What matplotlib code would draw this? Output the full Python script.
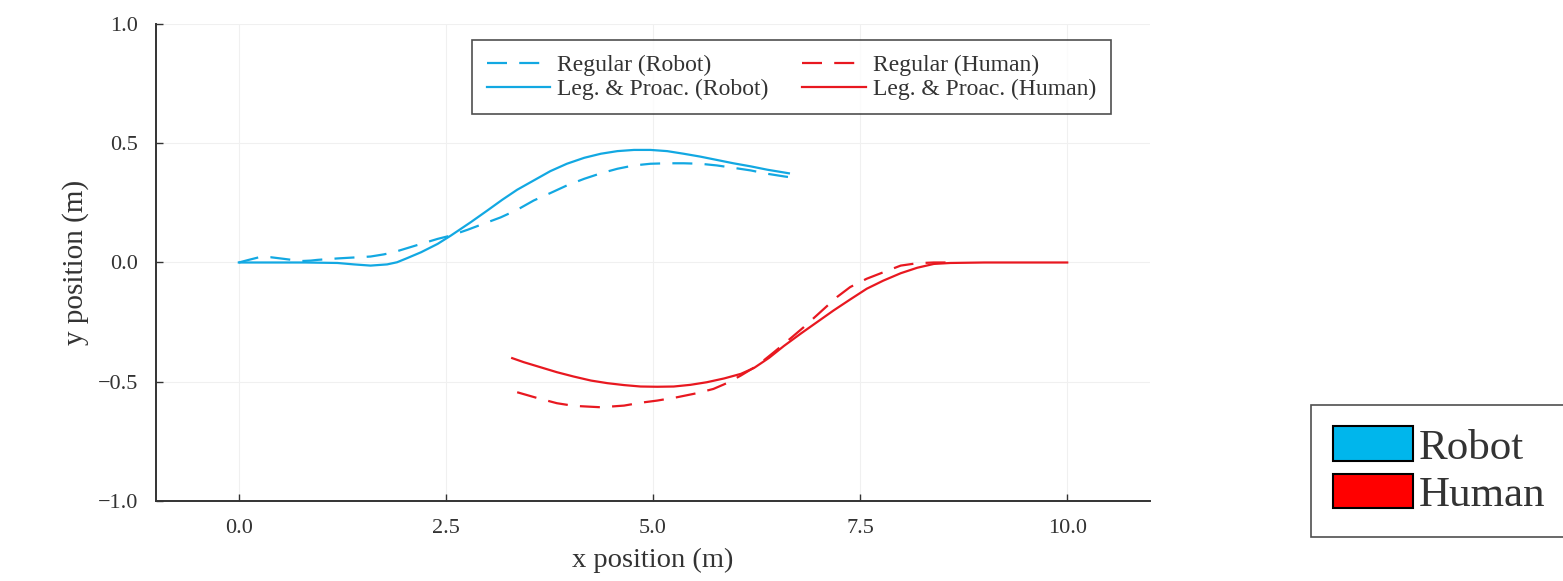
import matplotlib
matplotlib.use("Agg")
import matplotlib.pyplot as plt
from matplotlib.patches import Patch

# ---- data ----
robot_reg_x = [0.0, 0.12, 0.245, 0.386, 0.55, 0.75, 0.869, 0.95, 1.19, 1.39, 1.59, 1.75, 1.87, 2.03,
               2.2, 2.4, 2.56, 2.76, 2.92, 3.16, 3.36, 3.56, 3.76, 3.96, 4.17, 4.37, 4.57, 4.77,
               4.97, 5.17, 5.37, 5.57, 5.77, 5.97, 6.18, 6.38, 6.58, 6.72]
robot_reg_y = [0.0, 0.011, 0.022, 0.022, 0.015, 0.006, 0.008, 0.011, 0.017, 0.021, 0.025, 0.034, 0.043,
               0.06, 0.078, 0.099, 0.113, 0.137, 0.158, 0.189, 0.221, 0.26, 0.291, 0.323, 0.351, 0.374,
               0.393, 0.407, 0.414, 0.416, 0.416, 0.414, 0.407, 0.397, 0.386, 0.372, 0.361, 0.354]

robot_lp_x = [0.0, 0.386, 0.8, 1.19, 1.39, 1.59, 1.79, 1.91, 2.03, 2.2, 2.4, 2.56, 2.8, 3.0, 3.18,
              3.36, 3.56, 3.76, 3.96, 4.17, 4.37, 4.57, 4.77, 4.97, 5.17, 5.37, 5.57, 5.77, 5.97,
              6.18, 6.38, 6.64]
robot_lp_y = [0.0, 0.0, 0.0, -0.002, -0.008, -0.013, -0.008, 0.001, 0.018, 0.043, 0.078, 0.113, 0.169,
              0.218, 0.263, 0.305, 0.344, 0.383, 0.414, 0.439, 0.456, 0.467, 0.472, 0.472, 0.467,
              0.456, 0.444, 0.430, 0.416, 0.403, 0.389, 0.374]

human_reg_x = [3.36, 3.6, 3.84, 4.04, 4.37, 4.65, 4.85, 5.05, 5.29, 5.53, 5.73, 5.89, 6.06, 6.26,
               6.46, 6.62, 6.82, 7.02, 7.22, 7.38, 7.58, 7.78, 7.99, 8.19, 8.39, 8.65]
human_reg_y = [-0.544, -0.568, -0.590, -0.601, -0.607, -0.600, -0.588, -0.579, -0.565, -0.548,
               -0.530, -0.506, -0.474, -0.432, -0.376, -0.330, -0.271, -0.208, -0.145, -0.103,
               -0.068, -0.041, -0.013, -0.003, 0.0, 0.0]

human_lp_x = [3.30, 3.44, 3.64, 3.84, 4.04, 4.25, 4.45, 4.65, 4.85, 5.05, 5.25, 5.45, 5.65, 5.86,
              6.06, 6.22, 6.40, 6.58, 6.78, 6.98, 7.18, 7.38, 7.58, 7.78, 7.99, 8.19, 8.39, 8.59,
              9.0, 9.5, 10.0]
human_lp_y = [-0.401, -0.418, -0.439, -0.460, -0.478, -0.495, -0.506, -0.514, -0.520, -0.521, -0.520,
              -0.513, -0.502, -0.486, -0.467, -0.442, -0.400, -0.350, -0.299, -0.250, -0.201, -0.155,
              -0.110, -0.076, -0.045, -0.022, -0.006, -0.002, 0.0, 0.0, 0.0]

x_ticks = [0.0, 2.5, 5.0, 7.5, 10.0]
x_tick_labels = ["0.0", "2.5", "5.0", "7.5", "10.0"]
y_ticks = [-1.0, -0.5, 0.0, 0.5, 1.0]
y_tick_labels = ["\u22121.0", "\u22120.5", "0.0", "0.5", "1.0"]

line_labels = ["Regular (Robot)", "Leg. & Proac. (Robot)", "Regular (Human)", "Leg. & Proac. (Human)"]
agent_labels = ["Robot", "Human"]

BLUE_LINE = "#12a8e2"
RED_LINE = "#e81820"
BLUE_FILL = "#00b6ec"
RED_FILL = "#ff0000"
TEXT = "#333333"

plt.rcParams['font.family'] = ['Liberation Serif', 'DejaVu Serif']

fig = plt.figure(figsize=(15.63, 5.81), dpi=100)
ax = fig.add_axes([0.0998, 0.1377, 0.6360, 0.8210])

lw = 1.6
dash = (9, 5.5)
l1, = ax.plot(robot_reg_x, robot_reg_y, color=BLUE_LINE, lw=lw, dashes=dash)
l2, = ax.plot(robot_lp_x, robot_lp_y, color=BLUE_LINE, lw=lw)
l3, = ax.plot(human_reg_x, human_reg_y, color=RED_LINE, lw=lw, dashes=dash)
l4, = ax.plot(human_lp_x, human_lp_y, color=RED_LINE, lw=lw)

ax.set_xlim(-1.0, 11.0)
ax.set_ylim(-1.0, 1.0)
ax.set_xticks(x_ticks)
ax.set_xticklabels(x_tick_labels)
ax.set_yticks(y_ticks)
ax.set_yticklabels(y_tick_labels)
ax.tick_params(direction='in', length=5, width=1.0, color=TEXT, labelsize=16,
               labelcolor=TEXT)
ax.tick_params(axis='y', pad=13)
ax.tick_params(axis='x', pad=13)
ax.grid(True, color='#f0f0f0', lw=0.8)
ax.set_axisbelow(True)
for s in ['top', 'right']:
    ax.spines[s].set_visible(False)
for s in ['left', 'bottom']:
    ax.spines[s].set_color(TEXT)
    ax.spines[s].set_linewidth(1.4)

ax.set_xlabel("x position (m)", fontsize=20.5, color=TEXT, labelpad=7)
ax.set_ylabel("y position (m)", fontsize=21, color=TEXT, labelpad=6.5)

leg = ax.legend([l1, l2, l3, l4], line_labels,
                ncol=2, loc='upper center', bbox_to_anchor=(0.639, 0.966), borderaxespad=0,
                fontsize=17, frameon=True, fancybox=False, edgecolor='#222222',
                handlelength=2.7, handletextpad=0.3, columnspacing=1.4,
                labelspacing=0.08, borderpad=0.62)
leg.get_frame().set_linewidth(1.2)
for t in leg.get_texts():
    t.set_color(TEXT)

handles = [Patch(facecolor=BLUE_FILL, edgecolor='black', lw=1.5),
           Patch(facecolor=RED_FILL, edgecolor='black', lw=1.5)]
leg2 = fig.legend(handles, agent_labels, loc='upper left', bbox_to_anchor=(0.839, 0.303),
                  borderaxespad=0, fontsize=31, frameon=True, fancybox=False, edgecolor='#222222',
                  handlelength=1.85, handleheight=0.85, handletextpad=0.15,
                  labelspacing=0.15, borderpad=0.5)
leg2.get_frame().set_linewidth(1.2)
for t in leg2.get_texts():
    t.set_color(TEXT)

fig.savefig("out.png", dpi=100, facecolor='white')
